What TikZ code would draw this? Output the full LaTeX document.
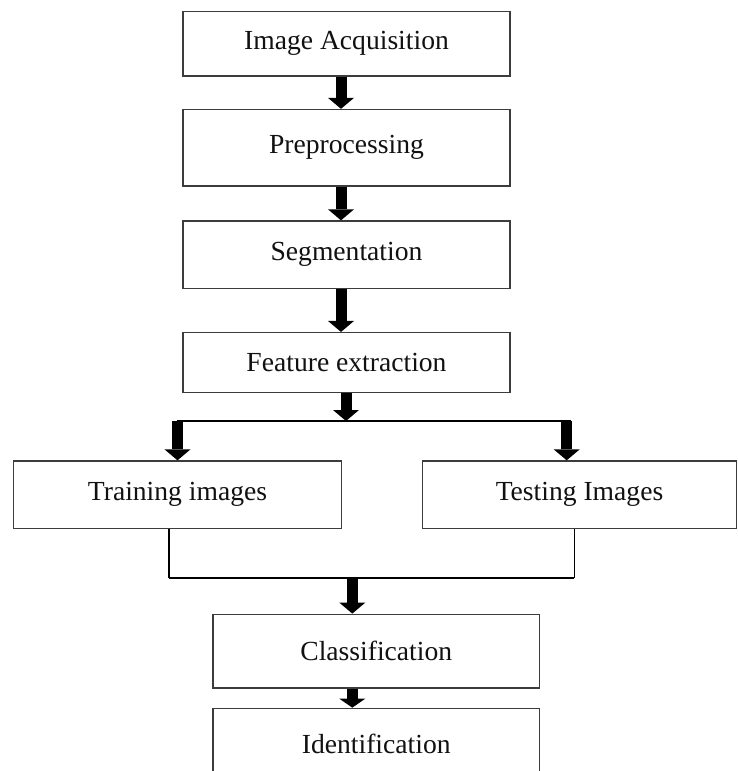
\documentclass[tikz,border=0pt]{standalone}
\usepackage{fontspec}
\setmainfont{Liberation Serif}
\usetikzlibrary{arrows.meta}
\definecolor{boxgray}{HTML}{3C3C3C}
\definecolor{inkblack}{HTML}{111111}
\begin{document}
\begin{tikzpicture}[x=1pt,y=-1pt,
  stagebox/.style={draw=boxgray, line width=1.3pt, fill=white, inner sep=0pt,
    text=inkblack, font=\fontsize{27.6}{33}\selectfont},
  blockarrow/.style={draw=black, line width=11pt,
    -{Triangle[width=26pt,length=11pt,line width=0pt]}},
  shortarrow/.style={draw=black, line width=11pt,
    -{Triangle[width=26pt,length=9pt,line width=0pt]}},
  joinline/.style={draw=black, line width=2.2pt},
  dropline/.style={draw=black, line width=1.3pt}]
\clip (0,0) rectangle (738,771);
\useasboundingbox (0,0) rectangle (738,771);

% stages of the pipeline
\node[stagebox, minimum width=327pt, minimum height=64.5pt] (acq)  at (346.5,43.75) {Image Acquisition};
\node[stagebox, minimum width=327pt, minimum height=76.5pt] (pre)  at (346.5,147.75) {Preprocessing};
\node[stagebox, minimum width=327pt, minimum height=67.5pt] (seg)  at (346.5,254.75) {Segmentation};
\node[stagebox, minimum width=327pt, minimum height=60pt]   (feat) at (346.5,362.6) {Feature extraction};
\node[stagebox, minimum width=328.4pt, minimum height=67.5pt] (train) at (177.5,494.75) {Training images};
\node[stagebox, minimum width=314pt, minimum height=67.5pt]   (test)  at (579.5,494.75) {Testing Images};
\node[stagebox, minimum width=326.5pt, minimum height=73.7pt] (cls)   at (376.25,651.1) {Classification};
\node[stagebox, minimum width=326.5pt, minimum height=72pt]   (ident) at (376.25,744.3) {Identification};

% branching and merging points
\coordinate (split)  at (346,421);
\coordinate (splitL) at (177.5,421);
\coordinate (splitR) at (566.7,421);
\coordinate (joinL)  at (169,578.3);
\coordinate (joinR)  at (574.3,578.3);
\coordinate (merge)  at (352.3,578.3);

% straight chain at the top
\draw[blockarrow] ([xshift=-5.5pt]acq.south) -- ([xshift=-5.5pt]pre.north);
\draw[blockarrow] ([xshift=-5.5pt]pre.south) -- ([xshift=-5.5pt]seg.north);
\draw[blockarrow] ([xshift=-5.5pt]seg.south) -- ([xshift=-5.5pt]feat.north);

% split into training and testing
\draw[joinline] ([xshift=-1pt]splitL) -- ([xshift=4pt]splitR);
\draw[blockarrow] (split |- feat.south) -- (split);
\draw[blockarrow] (splitL) -- (train.north);
\draw[blockarrow] (splitR) -- (splitR |- test.north);

% merge into classification
\draw[dropline] (train.south -| joinL) -- (joinL);
\draw[dropline] (test.south -| joinR) -- (joinR);
\draw[joinline] (joinL) -- (joinR);
\draw[blockarrow] (merge) -- (merge |- cls.north);
\draw[shortarrow] (merge |- cls.south) -- (merge |- ident.north);
\end{tikzpicture}
\end{document}
